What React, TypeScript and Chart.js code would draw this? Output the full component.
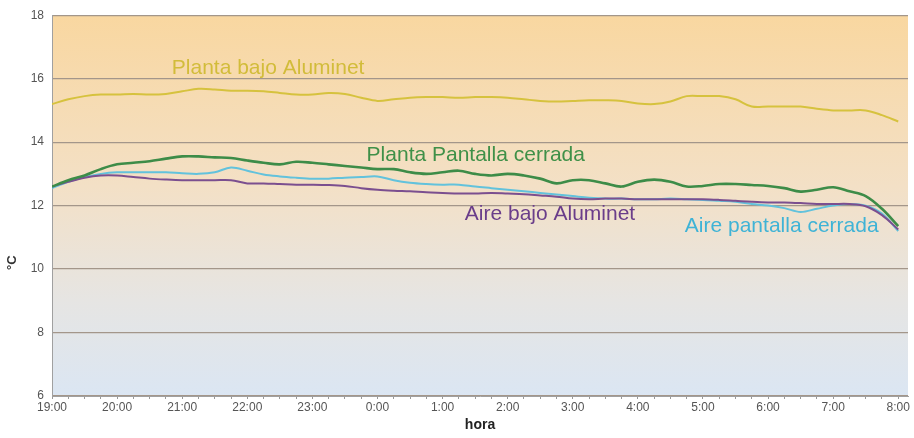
import React, { useEffect, useRef } from "react";
import { Chart, registerables } from "chart.js";

Chart.register(...registerables);

// time in hours after 19:00, every 15 minutes
const hourLabels = ["19:00","20:00","21:00","22:00","23:00","0:00","1:00","2:00","3:00","4:00","5:00","6:00","7:00","8:00"];
const yTicks = [6, 8, 10, 12, 14, 16, 18];

const plantaAluminet = [15.2,15.35,15.45,15.5,15.5,15.52,15.5,15.52,15.6,15.68,15.66,15.62,15.62,15.6,15.55,15.5,15.5,15.55,15.52,15.4,15.3,15.35,15.4,15.42,15.42,15.4,15.42,15.42,15.4,15.35,15.3,15.28,15.3,15.32,15.32,15.3,15.22,15.2,15.28,15.45,15.45,15.45,15.35,15.12,15.12,15.12,15.12,15.05,15.0,15.0,15.0,14.85,14.65];
const plantaPantalla = [12.6,12.8,12.95,13.15,13.3,13.35,13.4,13.48,13.55,13.55,13.52,13.5,13.42,13.35,13.3,13.38,13.35,13.3,13.25,13.2,13.15,13.15,13.05,13.0,13.05,13.1,13.0,12.95,13.0,12.95,12.85,12.7,12.8,12.8,12.7,12.6,12.75,12.82,12.75,12.6,12.62,12.68,12.68,12.65,12.62,12.55,12.44,12.5,12.58,12.45,12.3,11.9,11.35];
const airePantalla = [12.55,12.75,12.9,13.0,13.05,13.05,13.05,13.05,13.02,13.0,13.05,13.2,13.1,12.98,12.92,12.88,12.85,12.85,12.88,12.9,12.92,12.8,12.72,12.68,12.66,12.66,12.6,12.55,12.5,12.45,12.4,12.35,12.3,12.25,12.22,12.22,12.2,12.2,12.22,12.2,12.18,12.15,12.12,12.05,12.0,11.92,11.8,11.9,12.0,12.05,12.0,11.75,11.2];
const aireAluminet = [12.6,12.75,12.88,12.95,12.95,12.9,12.85,12.82,12.8,12.8,12.8,12.8,12.7,12.7,12.68,12.66,12.66,12.65,12.62,12.55,12.5,12.47,12.45,12.42,12.4,12.38,12.38,12.4,12.38,12.36,12.32,12.28,12.22,12.2,12.22,12.22,12.2,12.2,12.2,12.2,12.2,12.18,12.15,12.12,12.1,12.1,12.08,12.05,12.05,12.05,11.98,11.7,11.25];

const seriesNames = ["Planta bajo Aluminet", "Planta Pantalla cerrada", "Aire bajo Aluminet", "Aire pantalla cerrada"];
const seriesColors = ["#d6c23e", "#3d8c48", "#7b4f8f", "#62c2dc"];
const labelColors = ["#d2bc3a", "#3f9048", "#6a3d8a", "#3fb3d6"];
// label anchor positions in data units (hours after 19:00, °C)
const labelHours = [3.32, 6.51, 7.65, 11.21];
const labelTemps = [16.33, 13.6, 11.72, 11.34];

const stepHours = 0.25;
const axisEndHours = 13.15;
const toPoints = (arr: number[]) => arr.map((v, i) => ({ x: i * stepHours, y: v }));

const bgPlugin = {
  id: "bgGrad",
  beforeDraw(chart: any) {
    const { ctx, chartArea } = chart;
    const g = ctx.createLinearGradient(0, chartArea.top, 0, chartArea.bottom);
    g.addColorStop(0, "#f9d7a0");
    g.addColorStop(0.45, "#f3e0c6");
    g.addColorStop(0.75, "#e6e5e3");
    g.addColorStop(1, "#dbe6f3");
    ctx.save();
    ctx.fillStyle = g;
    ctx.fillRect(chartArea.left, chartArea.top, chartArea.right - chartArea.left, chartArea.bottom - chartArea.top);
    ctx.restore();
  },
};

const textPlugin = {
  id: "texts",
  afterDatasetsDraw(chart: any) {
    const { ctx, scales, chartArea } = chart;
    ctx.save();
    ctx.font = "21px 'Liberation Sans', Arial, sans-serif";
    ctx.textAlign = "center";
    ctx.textBaseline = "middle";
    seriesNames.forEach((name, i) => {
      ctx.fillStyle = labelColors[i];
      ctx.fillText(name, scales.x.getPixelForValue(labelHours[i]), scales.y.getPixelForValue(labelTemps[i]));
    });
    // y title
    ctx.fillStyle = "#333";
    ctx.font = "bold 13px 'Liberation Sans', Arial, sans-serif";
    ctx.translate(chartArea.left - 40, scales.y.getPixelForValue(10.2));
    ctx.rotate(-Math.PI / 2);
    ctx.fillText("°C", 0, 0);
    ctx.restore();
  },
};

export default function App() {
  const ref = useRef<HTMLCanvasElement>(null);
  useEffect(() => {
    if (!ref.current) return;
    const chart = new Chart(ref.current, {
      type: "line",
      data: {
        datasets: [
          { label: seriesNames[3], data: toPoints(airePantalla), borderColor: seriesColors[3], order: 4 },
          { label: seriesNames[2], data: toPoints(aireAluminet), borderColor: seriesColors[2], order: 3 },
          { label: seriesNames[1], data: toPoints(plantaPantalla), borderColor: seriesColors[1], order: 1, borderWidth: 2.6 },
          { label: seriesNames[0], data: toPoints(plantaAluminet), borderColor: seriesColors[0], order: 2 },
        ].map((d: any) => ({ borderWidth: 2, pointRadius: 0, tension: 0.35, fill: false, ...d })),
      },
      options: {
        animation: false,
        responsive: true,
        maintainAspectRatio: false,
        layout: { padding: { top: 12, right: 6, left: 0, bottom: 0 } },
        plugins: { legend: { display: false }, tooltip: { enabled: false } },
        scales: {
          x: {
            type: "linear",
            min: 0,
            max: axisEndHours,
            afterFit: (s: any) => { s.height = 42; },
            afterBuildTicks: (s: any) => {
              const t: any[] = [];
              for (let i = 0; i <= (hourLabels.length - 1) / stepHours; i++) t.push({ value: i * stepHours });
              s.ticks = t;
            },
            ticks: {
              autoSkip: false,
              maxRotation: 0,
              color: "#555",
              font: { size: 12, family: "'Liberation Sans', Arial, sans-serif" },
              padding: 1,
              callback: (v: any) => (Math.abs(v - Math.round(v)) < 1e-6 ? hourLabels[Math.round(v)] : ""),
            },
            grid: { drawOnChartArea: false, drawTicks: true, tickLength: 3, color: "#999" },
            border: { color: "#a0a0a0" },
            title: { display: true, text: "hora", color: "#222", font: { size: 14, weight: "bold", family: "'Liberation Sans', Arial, sans-serif" }, padding: { top: 2 } },
          },
          y: {
            min: yTicks[0],
            max: yTicks[yTicks.length - 1],
            afterFit: (s: any) => { s.width = 52; },
            afterBuildTicks: (s: any) => { s.ticks = yTicks.map((v) => ({ value: v })); },
            ticks: { color: "#555", font: { size: 12, family: "'Liberation Sans', Arial, sans-serif" }, padding: 8 },
            grid: { color: "#a3968a", lineWidth: 1.2, drawTicks: false },
            border: { color: "#a0a0a0" },
          },
        },
      },
      plugins: [bgPlugin, textPlugin],
    });
    return () => chart.destroy();
  }, []);
  return (
    <div style={{ position: "fixed", left: 0, top: 0, width: 914, height: 438, background: "#fff" }}>
      <canvas ref={ref} />
    </div>
  );
}
